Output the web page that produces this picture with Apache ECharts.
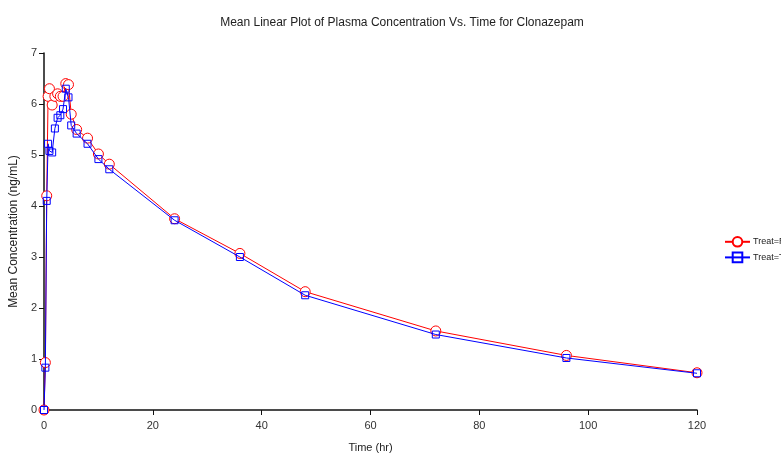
<!DOCTYPE html>
<html><head><meta charset="utf-8">
<script src="https://cdn.jsdelivr.net/npm/echarts@6/dist/echarts.min.js"></script>
<style>html,body{margin:0;padding:0;background:#fff}#c{width:781px;height:453px}</style>
</head><body><div id="c"></div>
<script>
const times = [0, 0.25, 0.5, 0.75, 1, 1.5, 2, 2.5, 3, 3.5, 4, 4.5, 5, 6, 8, 10, 12, 24, 36, 48, 72, 96, 120];
const treatR = [0, 0.93, 4.2, 6.15, 6.3, 5.98, 6.15, 6.2, 6.15, 6.15, 6.4, 6.38, 5.8, 5.5, 5.33, 5.02, 4.82, 3.75, 3.07, 2.32, 1.55, 1.07, 0.73];
const treatT = [0, 0.83, 4.1, 5.22, 5.08, 5.05, 5.52, 5.73, 5.78, 5.9, 6.3, 6.13, 5.58, 5.42, 5.22, 4.92, 4.72, 3.72, 3.0, 2.25, 1.48, 1.02, 0.72];
const xTicks = [0, 20, 40, 60, 80, 100, 120];
const yTicks = [0, 1, 2, 3, 4, 5, 6, 7];
const seriesNames = ['Treat=R', 'Treat=T'];

const font = '"Liberation Sans", Arial, sans-serif';
const chart = echarts.init(document.getElementById('c'), null, {renderer: 'canvas'});
chart.setOption({
  animation: false,
  title: {
    text: 'Mean Linear Plot of Plasma Concentration Vs. Time for Clonazepam',
    left: 397, top: 12, textAlign: 'center',
    textStyle: {fontFamily: font, fontSize: 12, fontWeight: 'normal', color: '#222'}
  },
  legend: {
    orient: 'vertical', left: 724, top: 236, padding: 0,
    itemWidth: 25, itemHeight: 12, itemGap: 4,
    textStyle: {fontFamily: font, fontSize: 9, color: '#222', padding: [0, 0, 0, -2]},
    data: seriesNames
  },
  grid: {left: 44, right: 84, top: 53, bottom: 43, outerBoundsMode: 'none', containLabel: false},
  xAxis: {
    type: 'value', min: 0, max: 120, interval: 20,
    name: 'Time (hr)', nameLocation: 'middle', nameGap: 32,
    nameTextStyle: {fontFamily: font, fontSize: 11, color: '#222'},
    axisLine: {lineStyle: {color: '#111', width: 1.5}},
    axisTick: {show: true, length: 5, lineStyle: {color: '#111'}},
    axisLabel: {fontFamily: font, fontSize: 11, color: '#333', margin: 10,
      formatter: v => xTicks.includes(v) ? String(v) : ''},
    splitLine: {show: false}
  },
  yAxis: {
    type: 'value', min: 0, max: 7, interval: 1,
    name: 'Mean Concentration (ng/mL)', nameLocation: 'middle', nameGap: 20,
    nameTextStyle: {fontFamily: font, fontSize: 12, color: '#222'},
    axisLine: {show: true, lineStyle: {color: '#111', width: 1.5}},
    axisTick: {show: true, length: 5, lineStyle: {color: '#111'}},
    axisLabel: {fontFamily: font, fontSize: 11, color: '#333', margin: 7,
      formatter: v => yTicks.includes(v) ? String(v) : ''},
    splitLine: {show: false}
  },
  series: [
    {
      name: seriesNames[0], type: 'line',
      data: times.map((t, i) => [t, treatR[i]]),
      symbol: 'circle', symbolSize: 10, showAllSymbol: true,
      lineStyle: {color: '#ff0000', width: 1},
      itemStyle: {color: '#fff', borderColor: '#ff0000', borderWidth: 1},
      z: 3
    },
    {
      name: seriesNames[1], type: 'line',
      data: times.map((t, i) => [t, treatT[i]]),
      symbol: 'rect', symbolSize: 7, showAllSymbol: true,
      lineStyle: {color: '#0000ff', width: 1},
      itemStyle: {color: 'rgba(255,255,255,0)', borderColor: '#0000ff', borderWidth: 1},
      z: 4
    }
  ]
});
</script></body></html>
